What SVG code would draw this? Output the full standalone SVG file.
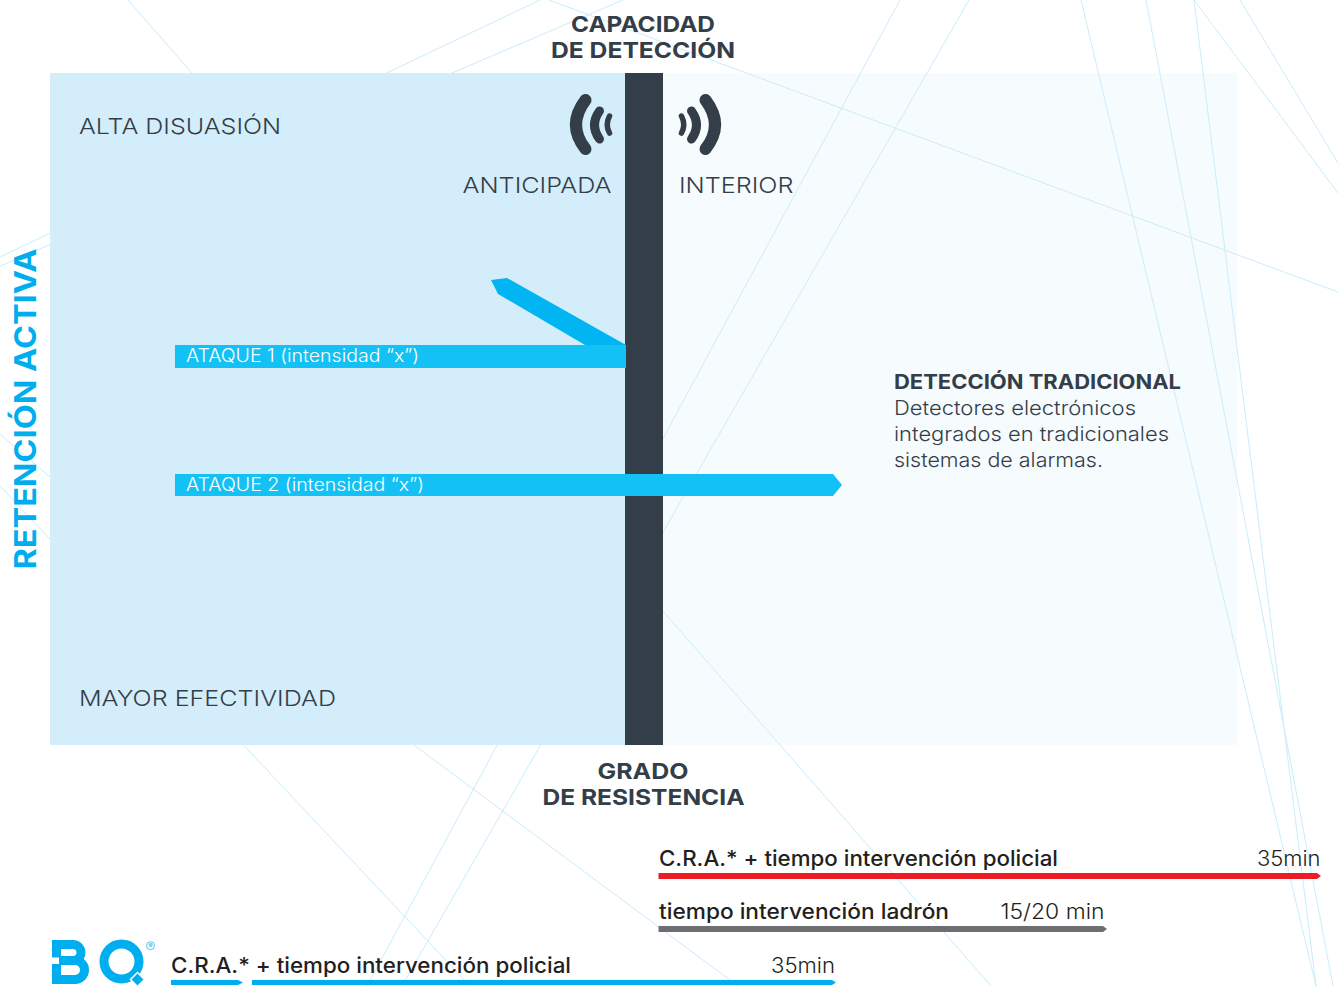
<svg xmlns="http://www.w3.org/2000/svg" width="1338" height="986" viewBox="0 0 1338 986">
<style>
text{font-family:Inter,"Liberation Sans",sans-serif;fill:#333e48}
.l{font-weight:300;font-size:22px}
.h{font-weight:700;font-size:22px}
.m{font-weight:400;font-size:20px}
.s{font-weight:500;font-size:21px;fill:#231f20}
.t{font-weight:300;font-size:21px;fill:#231f20}
.a{font-weight:300;font-size:18px;fill:#fff}
.bg line{stroke:#c9ecfa;stroke-width:1;fill:none}
.w path{fill:none;stroke:#333e48;stroke-linecap:round}
.logo path{fill:none;stroke:#00aeef;stroke-width:9}
</style>
<defs>
<g id="waves" class="w">
<path d="M585.5,100 Q566.5,125 585.5,149" stroke-width="12"/>
<path d="M599.5,111 Q589.5,125 599.5,139" stroke-width="9"/>
<path d="M609.5,116 Q605,125 609.5,133" stroke-width="5.5"/>
</g>
</defs>
<rect width="1338" height="986" fill="#fff"/>
<g id="background-lines" class="bg">
<line x1="128" y1="0" x2="991" y2="986"/>
<line x1="540" y1="0" x2="0" y2="257"/>
<line x1="623" y1="0" x2="0" y2="266"/>
<line x1="549" y1="0" x2="1338" y2="292"/>
<line x1="900" y1="0" x2="367" y2="986"/>
<line x1="969" y1="0" x2="402" y2="986"/>
<line x1="0" y1="486" x2="470" y2="986"/>
<line x1="0" y1="434" x2="50" y2="477"/>
<line x1="414" y1="745" x2="738" y2="986"/>
<line x1="1081" y1="0" x2="1316" y2="986"/>
<line x1="1146" y1="0" x2="1333" y2="986"/>
<line x1="1194" y1="0" x2="1316" y2="986"/>
<line x1="1194" y1="0" x2="1338" y2="193"/>
<line x1="1240" y1="0" x2="1338" y2="163"/>
</g>
<g id="panel-left"><rect x="50" y="73" width="575" height="672" fill="#d4edfb"/></g>
<g id="panel-right"><rect x="663" y="73" width="574" height="672" fill="#d4edfb" fill-opacity="0.22"/></g>
<g id="header">
<text class="h" x="571" y="32" textLength="144" lengthAdjust="spacingAndGlyphs">CAPACIDAD</text>
<text class="h" x="551" y="57.5" textLength="184" lengthAdjust="spacingAndGlyphs">DE DETECCIÓN</text>
</g>
<g id="barrier"><rect x="625" y="73" width="38" height="672" fill="#333e48"/></g>
<g id="icon-anticipada"><use href="#waves"/></g>
<g id="icon-interior"><use href="#waves" transform="translate(1291,0) scale(-1,1)"/></g>
<g id="labels">
<text class="l" x="79" y="134" textLength="202" lengthAdjust="spacingAndGlyphs">ALTA DISUASIÓN</text>
<text class="l" x="462.5" y="193" textLength="149" lengthAdjust="spacingAndGlyphs">ANTICIPADA</text>
<text class="l" x="679" y="193" textLength="114.5" lengthAdjust="spacingAndGlyphs">INTERIOR</text>
<text class="l" x="79" y="706" textLength="257" lengthAdjust="spacingAndGlyphs">MAYOR EFECTIVIDAD</text>
<text class="h" x="597.5" y="779" textLength="91" lengthAdjust="spacingAndGlyphs">GRADO</text>
<text class="h" x="542.5" y="805" textLength="202" lengthAdjust="spacingAndGlyphs">DE RESISTENCIA</text>
<text transform="translate(36,569.5) rotate(-90)" x="0" y="0" font-size="30" font-weight="700" style="fill:#00aeef" textLength="321" lengthAdjust="spacingAndGlyphs">RETENCIÓN ACTIVA</text>
</g>
<g id="connectors">
<polygon points="491,280 507,278 626,345 585,345 498,294" fill="#00b5f1"/>
<rect x="175" y="345" width="451" height="23" fill="#14c1f5"/>
<polygon points="175,474 833,474 842,485 833,496 175,496" fill="#14c1f5"/>
<polygon points="658.5,873 1317,873 1321,876 1317,879 658.5,879" fill="#ed1c24"/>
<polygon points="658.5,926 1103,926 1107,929 1103,932 658.5,932" fill="#6d6e71"/>
<polygon points="171,980 238,980 243,982.5 238,985 171,985" fill="#00aeef"/>
<polygon points="252,980 832,980 836,982.5 832,985 252,985" fill="#00aeef"/>
</g>
<g id="attack-labels">
<text class="a" x="186" y="362" textLength="233" lengthAdjust="spacingAndGlyphs">ATAQUE 1 (intensidad “x”)</text>
<text class="a" x="186" y="491" textLength="238" lengthAdjust="spacingAndGlyphs">ATAQUE 2 (intensidad “x”)</text>
</g>
<g id="detection-text">
<text class="m" x="894" y="389" style="font-weight:700" textLength="287" lengthAdjust="spacingAndGlyphs">DETECCIÓN TRADICIONAL</text>
<text class="m" x="894" y="415" style="font-weight:300" textLength="242" lengthAdjust="spacingAndGlyphs">Detectores electrónicos</text>
<text class="m" x="894" y="441" style="font-weight:300" textLength="275" lengthAdjust="spacingAndGlyphs">integrados en tradicionales</text>
<text class="m" x="894" y="467" style="font-weight:300" textLength="209" lengthAdjust="spacingAndGlyphs">sistemas de alarmas.</text>
</g>
<g id="time-labels">
<text class="s" x="659" y="866" textLength="399" lengthAdjust="spacingAndGlyphs">C.R.A.* + tiempo intervención policial</text>
<text class="t" x="1257" y="866" textLength="63.5" lengthAdjust="spacingAndGlyphs">35min</text>
<text class="s" x="659" y="919" textLength="290" lengthAdjust="spacingAndGlyphs">tiempo intervención ladrón</text>
<text class="t" x="1000.5" y="919" textLength="104" lengthAdjust="spacingAndGlyphs">15/20 min</text>
<text class="s" x="171" y="973" textLength="400" lengthAdjust="spacingAndGlyphs">C.R.A.* + tiempo intervención policial</text>
<text class="t" x="771" y="973" textLength="64" lengthAdjust="spacingAndGlyphs">35min</text>
</g>
<g id="logo" class="logo">
<path d="M56.5,957.5 V944.5 H73 a8,8 0 0 1 0,16 H59"/>
<path d="M56.5,964 V979.5 H75 a9.5,9.5 0 0 0 0,-19 H59"/>
<circle cx="121.5" cy="961.5" r="17.5" fill="none" stroke="#00aeef" stroke-width="9"/>
<polygon points="137.5,972.5 144.5,979.5 137.5,986.5 130.5,979.5" fill="#00aeef" stroke="#fff" stroke-width="1.5"/>
<circle cx="150.5" cy="945.7" r="4" fill="none" stroke="#00aeef" stroke-width="0.7"/>
<text x="150.5" y="948" font-size="6" text-anchor="middle" style="fill:#00aeef">®</text>
</g>
</svg>
